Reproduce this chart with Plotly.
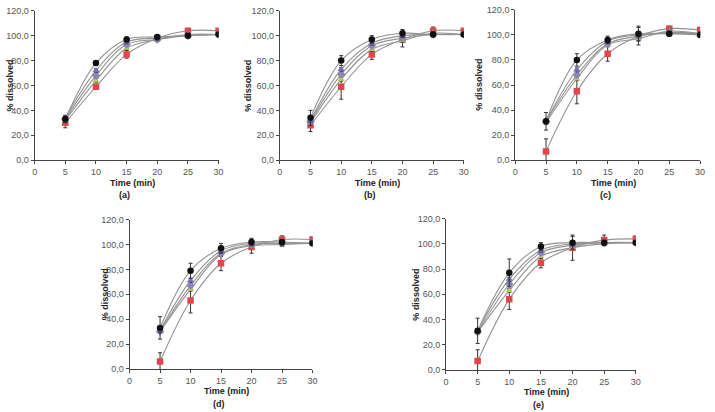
import plotly.graph_objects as go

time_min = [5, 10, 15, 20, 25, 30]
panel_labels = ["(a)", "(b)", "(c)", "(d)", "(e)"]
y_tick_vals = [0, 20, 40, 60, 80, 100, 120]
y_tick_text = ["0,0", "20,0", "40,0", "60,0", "80,0", "100,0", "120,0"]
x_tick_vals = [0, 5, 10, 15, 20, 25, 30]

# series values per panel: s1 (black circle) .. s5 (red square)
a_s1 = [33, 78, 97, 99, 100, 101]
a_s2 = [34, 72, 95, 98, 100, 101]
a_s3 = [33, 68, 93, 97, 100, 101]
a_s4 = [32, 64, 90, 97, 101, 101]
a_s5 = [30, 59, 85, 98, 104, 104]
a_err1 = [3, 2, 2, 1, 1, 1]
a_err5 = [4, 2, 3, 1, 1, 1]

b_s1 = [34, 80, 97, 102, 101, 101]
b_s2 = [32, 73, 94, 100, 101, 101]
b_s3 = [31, 69, 92, 98, 101, 101]
b_s4 = [30, 65, 89, 96, 102, 101]
b_s5 = [28, 59, 85, 97, 104, 104]
b_err1 = [6, 4, 3, 3, 2, 1]
b_err5 = [5, 10, 4, 6, 3, 1]

c_s1 = [31, 80, 96, 101, 101, 100]
c_s2 = [31, 72, 95, 100, 101, 101]
c_s3 = [31, 68, 93, 99, 102, 101]
c_s4 = [30, 65, 92, 97, 103, 101]
c_s5 = [7, 55, 85, 99, 105, 104]
c_err1 = [7, 5, 3, 6, 2, 1]
c_err5 = [10, 10, 6, 7, 2, 2]

d_s1 = [33, 79, 97, 102, 102, 101]
d_s2 = [31, 71, 95, 101, 101, 101]
d_s3 = [30, 67, 93, 100, 101, 101]
d_s4 = [30, 64, 92, 99, 100, 101]
d_s5 = [6, 55, 85, 98, 104, 104]
d_err1 = [9, 6, 4, 3, 2, 1]
d_err5 = [7, 10, 6, 5, 3, 2]

e_s1 = [31, 77, 98, 101, 101, 101]
e_s2 = [31, 72, 95, 100, 101, 101]
e_s3 = [30, 68, 93, 99, 101, 101]
e_s4 = [30, 63, 90, 97, 100, 101]
e_s5 = [7, 56, 85, 97, 103, 104]
e_err1 = [10, 11, 3, 5, 2, 1]
e_err5 = [9, 8, 4, 10, 4, 2]

panels = [
    (a_s1, a_s2, a_s3, a_s4, a_s5, a_err1, a_err5),
    (b_s1, b_s2, b_s3, b_s4, b_s5, b_err1, b_err5),
    (c_s1, c_s2, c_s3, c_s4, c_s5, c_err1, c_err5),
    (d_s1, d_s2, d_s3, d_s4, d_s5, d_err1, d_err5),
    (e_s1, e_s2, e_s3, e_s4, e_s5, e_err1, e_err5),
]

W, H = 715, 412
# pixel boxes: (x0, x1, ytop, ybottom, ytitle_x)
boxes = [(32, 218, 6, 159, 8), (280, 466, 6, 159, 248), (518, 705, 5, 159, 481),
         (128, 313, 220, 373, 103), (448, 640, 219, 374, 418)]

styles = [
    dict(symbol="square", color="#e0474c"),
    dict(symbol="triangle-up", color="#b8c85a"),
    dict(symbol="diamond", color="#8a86b8"),
    dict(symbol="triangle-up", color="#6f6fc4"),
    dict(symbol="circle", color="#111111"),
]

fig = go.Figure()
layout = dict(width=W, height=H, margin=dict(l=0, r=0, t=0, b=0),
              paper_bgcolor="white", plot_bgcolor="white", showlegend=False,
              font=dict(family="Liberation Sans, Arial, sans-serif", size=9, color="#555"))
annotations = []
for i, (p, box) in enumerate(zip(panels, boxes)):
    s1, s2, s3, s4, s5, err1, err5 = p
    series = [(s5, err5), (s4, None), (s3, None), (s2, None), (s1, err1)]
    ax = "" if i == 0 else str(i + 1)
    for (vals, err), st in zip(series, styles):
        fig.add_trace(go.Scatter(
            x=time_min, y=vals, mode="lines+markers",
            line=dict(color="#939393", width=1.1, shape="spline", smoothing=1.0),
            marker=dict(symbol=st["symbol"], color=st["color"], size=6.5),
            error_y=dict(type="data", array=err if err else [1.5] * 6,
                         color="#333", thickness=1, width=2),
            xaxis="x" + ax, yaxis="y" + ax))
    x0, x1, yt, yb, ytx = box
    layout["xaxis" + ax] = dict(
        domain=[x0 / W, x1 / W], range=[0, 30], tickvals=x_tick_vals,
        showline=True, linecolor="#444", linewidth=1, ticks="outside",
        ticklen=3, tickcolor="#444", showgrid=False, zeroline=False,
        anchor="y" + ax, fixedrange=True)
    layout["yaxis" + ax] = dict(
        domain=[(H - yb) / H, (H - yt) / H], range=[0, 120],
        tickvals=y_tick_vals, ticktext=y_tick_text,
        showline=True, linecolor="#444", linewidth=1, ticks="outside",
        ticklen=3, tickcolor="#444", showgrid=False, zeroline=False,
        anchor="x" + ax, fixedrange=True)
    cx = (x0 + x1) / 2 + 6
    annotations.append(dict(text="<b>Time (min)</b>", x=cx / W, y=(H - (yb + 23)) / H,
                            xref="paper", yref="paper", showarrow=False,
                            xanchor="center", yanchor="middle",
                            font=dict(size=9, color="#222")))
    annotations.append(dict(text="<b>" + panel_labels[i] + "</b>", x=(cx - 8) / W,
                            y=(H - (yb + 36)) / H, xref="paper", yref="paper",
                            showarrow=False, xanchor="center", yanchor="middle",
                            font=dict(size=9, color="#222")))
    annotations.append(dict(text="<b>% dissolved</b>", x=ytx / W,
                            y=(H - (yt + yb) / 2) / H, xref="paper", yref="paper",
                            showarrow=False, textangle=-90,
                            xanchor="center", yanchor="middle",
                            font=dict(size=9, color="#222")))
layout["annotations"] = annotations
fig.update_layout(**layout)
fig.write_html("out.html")
